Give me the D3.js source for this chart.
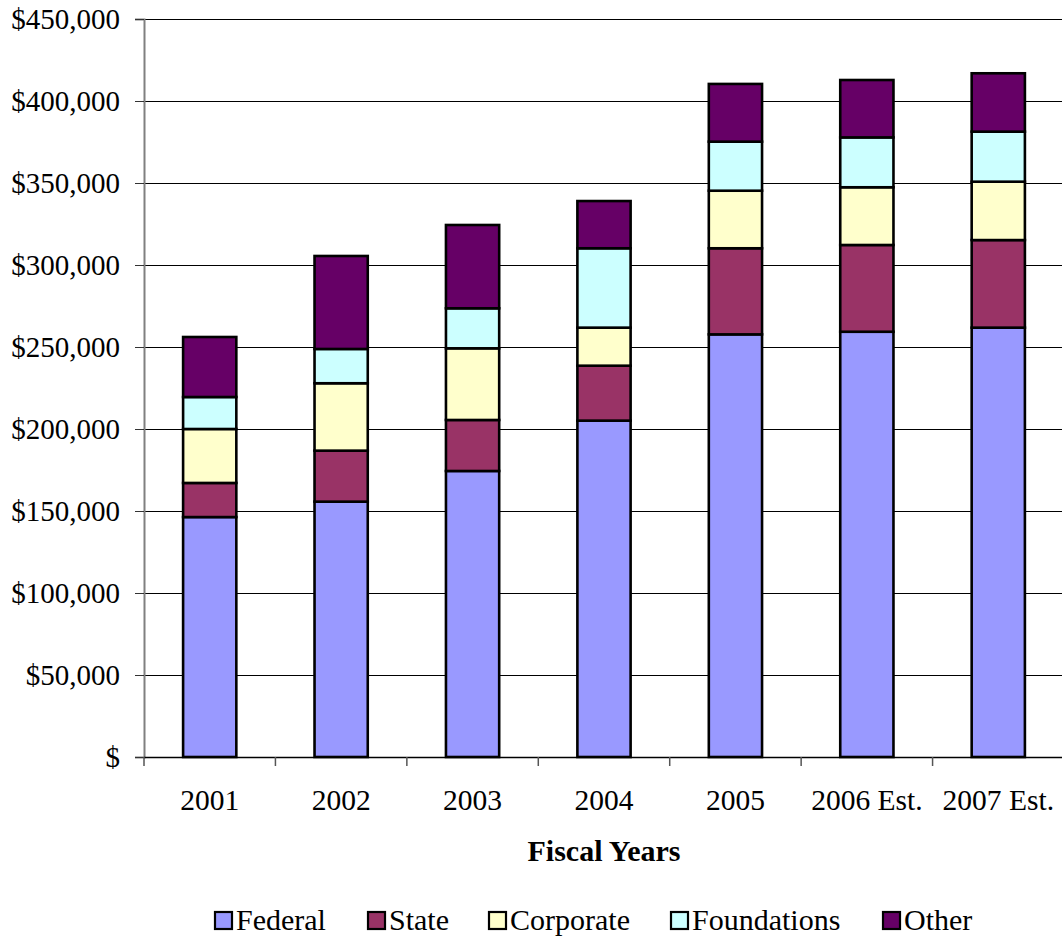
<!DOCTYPE html>
<html>
<head>
<meta charset="utf-8">
<script src="https://cdn.jsdelivr.net/npm/d3@7/dist/d3.min.js"></script>
<style>
  html, body { margin: 0; padding: 0; background: #fff; }
  svg { display: block; }
  svg text { font-family: "Liberation Serif", "Times New Roman", "DejaVu Serif", serif; fill: #000; }
</style>
</head>
<body>
<svg id="chart" width="1062" height="938"></svg>
<script>
// Funding by source, in dollars, per fiscal year
const years = ["2001", "2002", "2003", "2004", "2005", "2006 Est.", "2007 Est."];
const federal     = [146300, 155700, 174400, 205100, 257700, 259300, 261800];
const state       = [20800, 31100, 31100, 33500, 52500, 52900, 53400];
const corporate   = [32900, 41100, 43700, 23200, 35100, 35200, 35600];
const foundations = [19500, 20900, 24400, 48400, 29900, 30400, 30500];
const other       = [36600, 56700, 50800, 28800, 35200, 35000, 35600];

const seriesNames = ["Federal", "State", "Corporate", "Foundations", "Other"];
const seriesColors = ["#9999FF", "#993366", "#FFFFCC", "#CCFFFF", "#660066"];
const yTicks = [0, 50000, 100000, 150000, 200000, 250000, 300000, 350000, 400000, 450000];
const xTitle = "Fiscal Years";

const rows = years.map((y, i) => ({
  year: y,
  Federal: federal[i],
  State: state[i],
  Corporate: corporate[i],
  Foundations: foundations[i],
  Other: other[i]
}));

const svg = d3.select("#chart");
const plot = { left: 144, top: 19, right: 1064, bottom: 757 };

const x = d3.scaleBand().domain(years).range([plot.left, plot.right]).padding(0);
const y = d3.scaleLinear().domain([0, 450000]).range([plot.bottom, plot.top]);
const color = d3.scaleOrdinal().domain(seriesNames).range(seriesColors);

// horizontal gridlines
svg.append("g")
  .selectAll("line")
  .data(yTicks.slice(1))
  .join("line")
  .attr("x1", plot.left).attr("x2", plot.right)
  .attr("y1", d => Math.round(y(d)) + 0.5).attr("y2", d => Math.round(y(d)) + 0.5)
  .attr("stroke", "#000").attr("stroke-width", 1);

// stacked bars
const stacked = d3.stack().keys(seriesNames)(rows);
const barW = x.bandwidth() * 0.405;

svg.append("g")
  .selectAll("g")
  .data(stacked)
  .join("g")
  .attr("fill", d => color(d.key))
  .selectAll("rect")
  .data(d => d)
  .join("rect")
  .attr("x", d => x(d.data.year) + (x.bandwidth() - barW) / 2)
  .attr("width", barW)
  .attr("y", d => y(d[1]))
  .attr("height", d => y(d[0]) - y(d[1]))
  .attr("stroke", "#000")
  .attr("stroke-width", 2.6);

// y axis
const yAxis = d3.axisLeft(y)
  .tickValues(yTicks)
  .tickSize(9)
  .tickPadding(15)
  .tickFormat(d => d === 0 ? "$" : "$" + d3.format(",")(d));

const gy = svg.append("g")
  .attr("transform", `translate(${plot.left},0)`)
  .call(yAxis)
  .attr("font-family", null);
gy.select(".domain").attr("stroke", "#808080").attr("stroke-width", 2);
gy.selectAll(".tick line").attr("stroke", "#333");
gy.selectAll(".tick text")
  .attr("fill", "#000")
  .style("font-size", "29px");

// x axis
const xAxis = d3.axisBottom(x).tickSize(0).tickPadding(0);
const gx = svg.append("g")
  .attr("transform", `translate(0,${plot.bottom})`)
  .call(xAxis)
  .attr("font-family", null);
gx.select(".domain").remove();
gx.selectAll(".tick text")
  .attr("fill", "#000")
  .attr("dy", null)
  .attr("y", 53)
  .style("font-size", "29.5px");

// baseline and category separators
svg.append("line")
  .attr("x1", plot.left).attr("x2", plot.right)
  .attr("y1", plot.bottom + 0.5).attr("y2", plot.bottom + 0.5)
  .attr("stroke", "#000").attr("stroke-width", 1.5);
svg.append("g")
  .selectAll("line")
  .data(years.map(d => x(d)))
  .join("line")
  .attr("x1", d => d).attr("x2", d => d)
  .attr("y1", plot.bottom).attr("y2", plot.bottom + 9)
  .attr("stroke", "#555").attr("stroke-width", 1.5);

// axis title
svg.append("text")
  .attr("x", 604).attr("y", 861)
  .attr("text-anchor", "middle")
  .style("font-weight", "bold")
  .style("font-size", "30px")
  .text(xTitle);

// legend
const legendX = [215, 368, 489, 671, 883];
const legend = svg.append("g")
  .selectAll("g")
  .data(seriesNames)
  .join("g")
  .attr("transform", (d, i) => `translate(${legendX[i]},912)`);
legend.append("rect")
  .attr("width", 17).attr("height", 17)
  .attr("fill", d => color(d))
  .attr("stroke", "#000").attr("stroke-width", 2.2);
legend.append("text")
  .attr("x", 21).attr("y", 18)
  .style("font-size", "30px")
  .text(d => d);
</script>
</body>
</html>
